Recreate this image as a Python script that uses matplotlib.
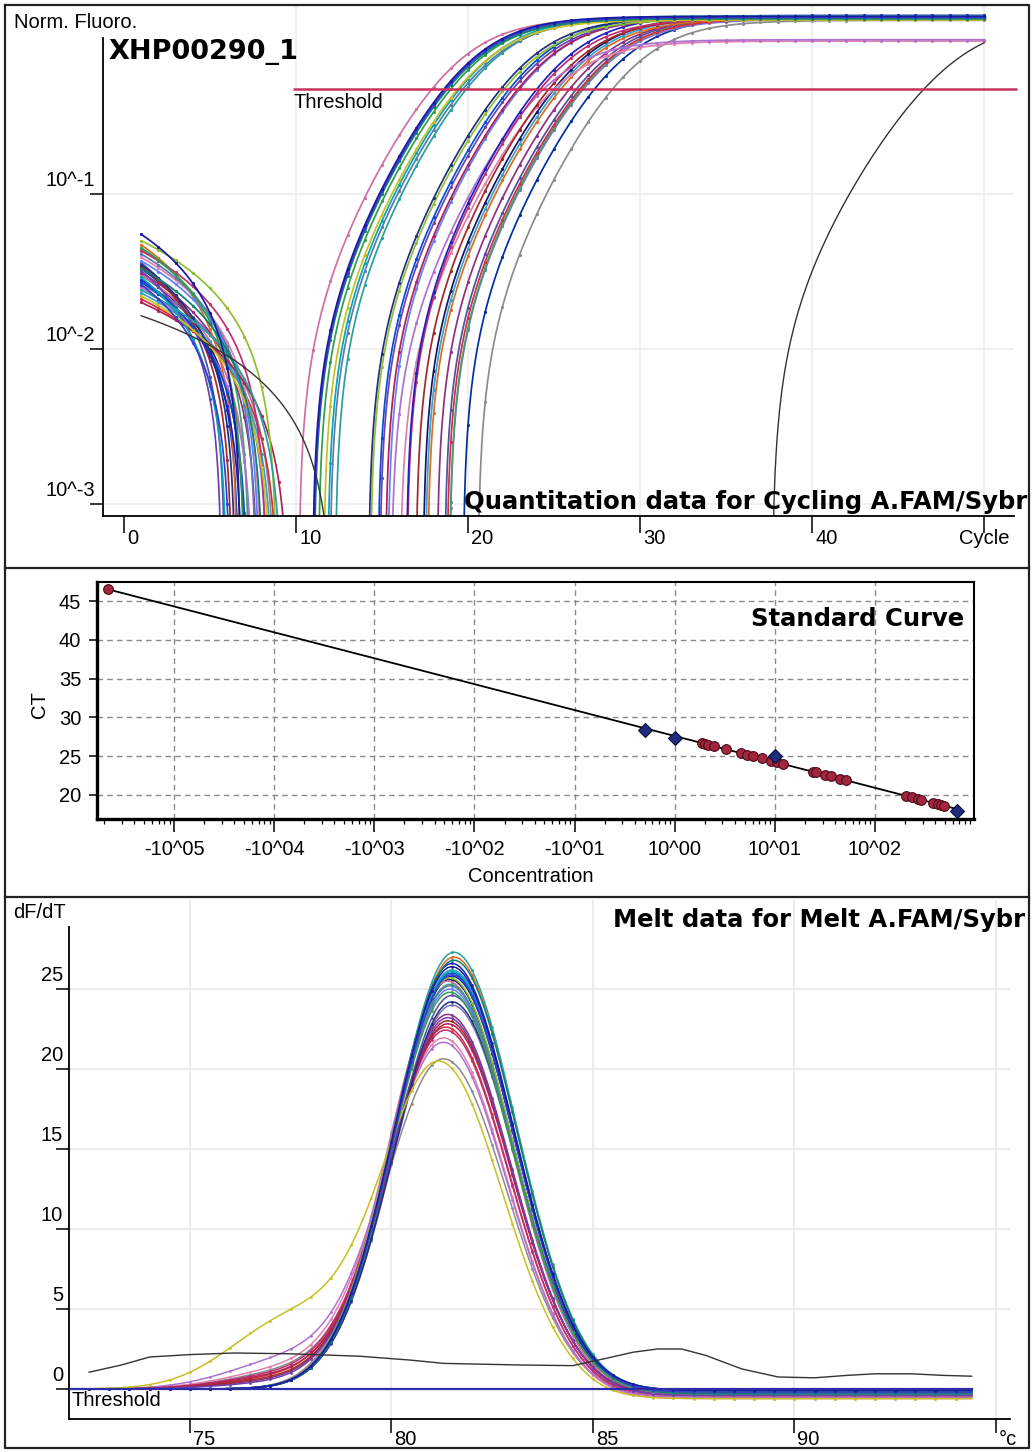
import numpy as np
import matplotlib
matplotlib.use("Agg")
import matplotlib.pyplot as plt
from matplotlib.lines import Line2D
from matplotlib.transforms import blended_transform_factory, ScaledTranslation
from matplotlib.ticker import NullLocator, LogLocator

# ------------------------------------------------------------------ data
# threshold-crossing cycles (CT) of the standards and their log10 concentration
std_log_conc = [-0.30, 0.00, 1.00, 2.82]
std_ct = [28.4, 27.35, 25.0, 17.9]
unk_ct = [26.7, 26.6, 26.5, 26.3, 25.9, 25.4, 25.2, 25.0, 24.7, 24.4, 24.2, 24.0, 23.0,
          22.9, 22.6, 22.4, 22.1, 21.9, 19.9, 19.7, 19.5, 19.4, 19.0, 18.8, 18.7, 18.6]
# the one very late sample
late_ct = 46.5

# per-sample properties, standards first then unknowns
sample_colors = ["#8c8c8c", "#0030a0", "#151565", "#d070a0",
                 "#8070c0", "#40a070", "#d03040", "#5050a0", "#903080", "#e06a20",
                 "#3aa0c8", "#e080b0", "#a02828", "#b070d0", "#c03070", "#2020c0",
                 "#6080ff", "#b02050", "#7040b0", "#0050d0", "#8fbf30", "#203080",
                 "#28a0a0", "#5a7ab0", "#00a8b8", "#c8c020", "#2f9f4f", "#0f7f6f",
                 "#3b3bd0", "#1a1aa0"]
plateau = [1.32, 1.40, 1.41, 1.36,
           1.34, 1.38, 1.36, 1.39, 1.37, 1.35, 1.38, 0.97, 1.36, 0.99, 1.35, 1.42, 1.39,
           1.37, 1.36, 1.40, 1.34, 1.38, 1.41, 1.36, 1.39, 1.33, 1.37, 1.35, 1.38, 1.40]
start_level = [0.026, 0.033, 0.030, 0.030,
               0.027, 0.044, 0.021, 0.036, 0.031, 0.047, 0.023, 0.039, 0.034, 0.025,
               0.043, 0.028, 0.037, 0.020, 0.032, 0.027, 0.050, 0.035, 0.024, 0.041,
               0.029, 0.022, 0.045, 0.033, 0.026, 0.055]
drop_cycle = [8.8, 6.7, 7.1, 7.4,
              8.4, 7.3, 9.0, 5.9, 7.8, 6.6, 8.7, 8.0, 6.3, 7.5, 8.3, 6.9, 7.9, 9.6, 5.7,
              7.2, 8.9, 6.5, 9.2, 7.7, 6.0, 8.6, 7.0, 8.1, 6.2, 6.8]
melt_peak = [20.6, 25.8, 25.6, 25.5,
             24.0, 25.3, 22.6, 24.6, 23.4, 27.0, 26.2, 21.9, 23.0, 21.6, 22.4, 26.6, 25.0,
             22.8, 23.2, 26.0, 25.7, 24.2, 27.3, 25.2, 26.1, 20.3, 24.8, 26.8, 25.9, 26.4]
melt_tm = [81.3, 81.5, 81.45, 81.4,
           81.5, 81.45, 81.35, 81.5, 81.4, 81.55, 81.5, 81.3, 81.4, 81.3, 81.35, 81.5,
           81.45, 81.4, 81.4, 81.5, 81.45, 81.5, 81.55, 81.45, 81.5, 81.2, 81.45, 81.55,
           81.5, 81.5]
melt_shoulder = [1.0, 0, 0, 0,
                 0, 0, 0.7, 0, 0.5, 0, 0, 1.2, 0.6, 1.8, 0.9, 0, 0, 0.8, 0.4, 0, 0, 0,
                 0, 0, 0, 4.2, 0, 0, 0, 0]
melt_tail = [0.5, 0.2, 0.3, 0.4,
             0.3, 0.1, 0.5, 0.2, 0.4, 0.3, 0.2, 0.6, 0.3, 0.5, 0.4, 0.1, 0.2, 0.3, 0.4,
             0.2, 0.3, 0.1, 0.2, 0.3, 0.1, 0.6, 0.2, 0.3, 0.2, 0.1]

# late sample: baseline, plateau and its flat melt profile
late_start, late_drop, late_plateau, late_rise = 0.0164, 12.2, 1.36, 2.45
late_melt_temp = [72.5, 73.3, 74.0, 75.0, 76.1, 77.5, 79.2, 80.5, 81.3, 83.2, 84.5, 85.3,
                  86.0, 86.6, 87.2, 87.8, 88.7, 89.6, 90.5, 91.3, 92.0, 92.9, 93.7, 94.4]
late_melt_dfdt = [1.05, 1.5, 2.0, 2.15, 2.25, 2.2, 2.05, 1.8, 1.6, 1.5, 1.46, 1.9,
                  2.3, 2.5, 2.5, 2.1, 1.25, 0.75, 0.7, 0.85, 0.95, 0.95, 0.85, 0.8]

# run settings
cycle_range = (1, 50)
amp_threshold = 0.475
threshold_from_cycle = 9.8
threshold_to_cycle = 51.9
melt_range = (72.5, 94.4)
melt_threshold = 0.0

# shape constants of the amplification / melt models
rise_width = 2.15
baseline_frac = 0.015
melt_sigma_left, melt_sigma_right = 1.45, 1.55
shoulder_center, shoulder_sigma = 77.5, 1.5

# axis ticks and labels
amp_xticks = [0, 10, 20, 30, 40, 50]
amp_xlabels = ["0", "10", "20", "30", "40", "Cycle"]
amp_yticks = [1e-1, 1e-2, 1e-3]
amp_ylabels = ["10^-1", "10^-2", "10^-3"]
std_xticks = [1e-5, 1e-4, 1e-3, 1e-2, 1e-1, 1e0, 1e1, 1e2]
std_xlabels = ["-10^05", "-10^04", "-10^03", "-10^02", "-10^01", "10^00", "10^01", "10^02"]
std_yticks = [20, 25, 30, 35, 40, 45]
melt_xticks = [75, 80, 85, 90, 95]
melt_xlabels = ["75", "80", "85", "90", "°c"]
melt_yticks = [0, 5, 10, 15, 20, 25]

# ------------------------------------------------------------------ figure
W, H, DPI = 1033, 1452, 100
plt.rcParams["font.family"] = ["Liberation Sans", "DejaVu Sans"]
fig = plt.figure(figsize=(W / DPI, H / DPI), dpi=DPI)
fig.patch.set_facecolor("white")


def fx(x):
    return x / W


def fy(y):
    return 1 - y / H


def box(x0, y0, x1, y1):
    return [fx(x0), fy(y1), (x1 - x0) / W, (y1 - y0) / H]


def shift(dx, dy):
    return ScaledTranslation(dx / DPI, dy / DPI, fig.dpi_scale_trans)


REG = 14.5
BOLD = dict(family=["DejaVu Sans"], fontweight="bold")

# panel frames
for xs, ys in [([5, 1029, 1029, 5, 5], [5, 5, 1448, 1448, 5]),
               ([5, 1029], [568, 568]), ([5, 1029], [897, 897])]:
    fig.add_artist(Line2D([fx(v) for v in xs], [fy(v) for v in ys],
                          transform=fig.transFigure, color="#222222", lw=1.6))


def left_labels(ax, values, labels, dx, dy):
    tr = blended_transform_factory(ax.transAxes, ax.transData) + shift(-dx, dy)
    for v, s in zip(values, labels):
        ax.text(0, v, s, transform=tr, ha="right", va="bottom", fontsize=REG,
                clip_on=False)


def bottom_labels(ax, values, labels, dx, dy, centered_last=False):
    for i, (v, s) in enumerate(zip(values, labels)):
        last = centered_last and i == len(values) - 1
        tr = blended_transform_factory(ax.transData, ax.transAxes) + \
            shift(0 if last else dx, -dy)
        ax.text(v, 0, s, transform=tr, ha="center" if last else "left", va="top",
                fontsize=REG, clip_on=False)


# ------------------------------------------------------------ amplification
ax1 = fig.add_axes(box(103, 6, 1014, 516))
ax1.set_yscale("log")
ax1.set_xlim(-1.22, 51.74)
y_lo, y_hi = 10 ** -3.077, 10 ** 0.213
ax1.set_ylim(y_lo, y_hi)
ax1.yaxis.set_minor_locator(NullLocator())
ax1.set_yticks(amp_yticks, [""] * 3)
ax1.set_xticks(amp_xticks, [""] * len(amp_xticks))
ax1.tick_params(axis="y", length=9.4, width=1.1, direction="out")
ax1.tick_params(axis="x", length=12.5, width=1.1, direction="out")
for s in ["top", "right"]:
    ax1.spines[s].set_visible(False)
for s in ["left", "bottom"]:
    ax1.spines[s].set_linewidth(1.3)
ax1.spines["left"].set_bounds(y_lo, 1.015)
for v in amp_xticks[1:]:
    ax1.axvline(v, color="#ededed", lw=1.2, zorder=0)
for v in amp_yticks:
    ax1.axhline(v, color="#ededed", lw=1.2, zorder=0)
left_labels(ax1, amp_yticks, amp_ylabels, 8, 4)
bottom_labels(ax1, amp_xticks, amp_xlabels, 3, 13, centered_last=True)

cyc = np.arange(cycle_range[0], cycle_range[1] + 1e-9, 0.05)


def amp_curve(c, ct, plat, width, start, drop):
    q = baseline_frac
    scale = plat / (1 - q)
    s_thr = amp_threshold / scale + q
    m = ct - width * np.log(s_thr / (1 - s_thr))
    sig = 1 / (1 + np.exp(-(c - m) / width))
    amp = np.clip(scale * (sig - q), 0, None)
    early = np.clip(start * (1 - (c - 1) / (drop - 1)), 0, None)
    return np.maximum(amp + early, 1e-6)


all_ct = std_ct + unk_ct
for i, ct in enumerate(all_ct):
    f = amp_curve(cyc, ct, plateau[i], rise_width, start_level[i], drop_cycle[i])
    ax1.plot(cyc, f, color=sample_colors[i], lw=1.25, marker="o", ms=2.3, mew=0,
             markevery=20, zorder=2)
f_late = amp_curve(cyc, late_ct, late_plateau, late_rise, late_start, late_drop)
ax1.plot(cyc, f_late, color="#333333", lw=1.0, zorder=2)

ax1.hlines(amp_threshold, threshold_from_cycle, threshold_to_cycle, color="#c8325a",
           lw=1.8, clip_on=False, zorder=3)

fig.text(fx(14), fy(22), "Norm. Fluoro.", fontsize=REG, ha="left", va="center")
fig.text(fx(108), fy(52), "XHP00290_1", fontsize=19.5, ha="left", va="center", **BOLD)
fig.text(fx(293), fy(102), "Threshold", fontsize=REG, ha="left", va="center")
fig.text(fx(1027), fy(502), "Quantitation data for Cycling A.FAM/Sybr", fontsize=17.5,
         ha="right", va="center", zorder=5, **BOLD)

# ------------------------------------------------------------ standard curve
ax2 = fig.add_axes(box(97, 582, 974, 819))
ax2.set_xscale("log")
ax2.set_xlim(10 ** -5.77, 10 ** 2.99)
ax2.set_ylim(16.9, 47.45)
ax2.set_xticks(std_xticks, std_xlabels)
ax2.xaxis.set_minor_locator(LogLocator(base=10, subs=np.arange(2, 10), numticks=30))
ax2.set_yticks(std_yticks)
ax2.tick_params(axis="x", which="major", length=9.4, width=1.1, pad=5.8, labelsize=REG)
ax2.tick_params(axis="x", which="minor", length=3.5, width=0.9, labelbottom=False)
ax2.tick_params(axis="y", length=5.5, width=1.1, pad=5.8, labelsize=REG)
ax2.grid(True, which="major", color="#8a8a8a", lw=1.0, linestyle=(0, (4, 3)))
ax2.set_axisbelow(True)
for s, lw in [("left", 2.4), ("bottom", 2.4), ("top", 1.5), ("right", 1.5)]:
    ax2.spines[s].set_linewidth(lw)

slope, intercept = np.polyfit(std_log_conc, std_ct, 1)
unk_log = (np.array(unk_ct) - intercept) / slope
late_log = (late_ct - intercept) / slope
all_log = np.concatenate([std_log_conc, unk_log, [late_log]])
line_log = np.array([all_log.min(), all_log.max()])
ax2.plot(10 ** line_log, slope * line_log + intercept, color="black", lw=1.3, zorder=3)
ax2.plot(10 ** np.append(unk_log, late_log), unk_ct + [late_ct], linestyle="none",
         marker="o", ms=7, mfc="#a3263f", mec="#4a0c18", mew=0.8, zorder=4)
ax2.plot(10 ** np.array(std_log_conc), std_ct, linestyle="none", marker="D", ms=7,
         mfc="#1f2c7c", mec="#0a0f3a", mew=0.8, zorder=5)

fig.text(fx(40), fy(705), "CT", fontsize=REG, rotation=90, ha="center", va="center")
fig.text(fx(531), fy(877), "Concentration", fontsize=REG, ha="center", va="center")
fig.text(fx(964), fy(619), "Standard Curve", fontsize=17.5, ha="right", va="center",
         **BOLD)

# ------------------------------------------------------------ melt
ax3 = fig.add_axes(box(69, 900, 1010, 1419))
ax3.set_xlim(72.0, 95.35)
ax3.set_ylim(-1.875, 30.56)
ax3.set_yticks(melt_yticks, [""] * len(melt_yticks))
ax3.set_xticks(melt_xticks, [""] * len(melt_xticks))
ax3.tick_params(axis="y", length=9.4, width=1.1, direction="out")
ax3.tick_params(axis="x", length=10, width=1.1, direction="out")
for s in ["top", "right"]:
    ax3.spines[s].set_visible(False)
for s in ["left", "bottom"]:
    ax3.spines[s].set_linewidth(1.3)
ax3.spines["left"].set_bounds(-1.875, 28.9)
for v in melt_xticks:
    ax3.axvline(v, color="#e8e8e8", lw=1.2, zorder=0)
for v in melt_yticks[1:]:
    ax3.axhline(v, color="#e8e8e8", lw=1.2, zorder=0)
left_labels(ax3, melt_yticks, [str(v) for v in melt_yticks], 6, 4)
bottom_labels(ax3, melt_xticks, melt_xlabels, 3, 11)

temps = np.arange(melt_range[0], melt_range[1] + 1e-9, 0.1)


def melt_curve(t, h, tm, sh, tail):
    sig = np.where(t < tm, melt_sigma_left, melt_sigma_right)
    main = h * np.exp(-0.5 * ((t - tm) / sig) ** 2)
    shoulder = sh * np.exp(-0.5 * ((t - shoulder_center) / shoulder_sigma) ** 2)
    return main + shoulder - tail / (1 + np.exp(-(t - 84.8) / 0.4))


for i in range(len(melt_peak)):
    ax3.plot(temps, melt_curve(temps, melt_peak[i], melt_tm[i], melt_shoulder[i],
                               melt_tail[i]),
             color=sample_colors[i], lw=1.1, marker="o", ms=2.0, mew=0, markevery=5,
             zorder=2)
ax3.plot(late_melt_temp, late_melt_dfdt, color="#333333", lw=1.0, zorder=2)
ax3.axhline(melt_threshold, xmin=0, xmax=(melt_range[1] - 72.0) / (95.35 - 72.0),
            color="#2c2ca8", lw=1.6, zorder=3)

fig.text(fx(13), fy(913), "dF/dT", fontsize=REG, ha="left", va="center")
fig.text(fx(72), fy(1401), "Threshold", fontsize=REG, ha="left", va="center")
fig.text(fx(1025), fy(920), "Melt data for Melt A.FAM/Sybr", fontsize=17.5, ha="right",
         va="center", **BOLD)

fig.savefig("out.png", dpi=DPI, facecolor="white")
